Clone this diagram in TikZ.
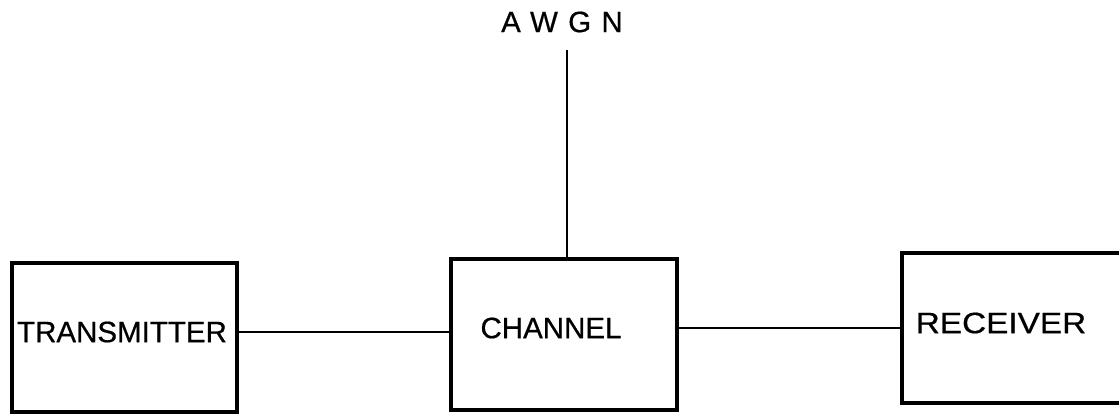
\documentclass[tikz,border=0pt]{standalone}
\usepackage{fontspec}
\setmainfont{Liberation Sans}
\begin{document}
\begin{tikzpicture}[x=1pt,y=-1pt,
  box/.style={draw, line width=3.2pt, minimum width=#1, inner sep=0pt},
  lbl/.style={inner sep=0pt, font=\fontsize{29.5}{32}\selectfont\addfontfeature{FakeBold=0.6}},
  wire/.style={line width=2pt}]
  \useasboundingbox (0,0) rectangle (1119,413);
  \clip (0,0) rectangle (1119,413);
  % blocks
  \node[box=225pt, minimum height=149pt] (tx) at (124.5,337.5) {};
  \node[box=226pt, minimum height=151pt] (ch) at (564,334.5) {};
  \node[box=232pt, minimum height=150pt] (rx) at (1018,328) {};
  % labels
  \node[lbl] (txl) at (122,332) {TRANSMITTER};
  \node[lbl] (chl) at (551,328) {CHANNEL};
  \node[lbl, xscale=1.13] (rxl) at (1001,323) {RECEIVER};
  \node[lbl] (awgn) at (562,22) {\addfontfeature{LetterSpace=35}AWGN};
  % connections
  \coordinate (noise) at (567,50);
  \draw[wire] (noise) -- (noise |- ch.north);
  \draw[wire] (tx.east |- txl) -- (ch.west |- txl);
  \draw[wire] (ch.east |- chl) -- (rx.west |- chl);
\end{tikzpicture}
\end{document}
